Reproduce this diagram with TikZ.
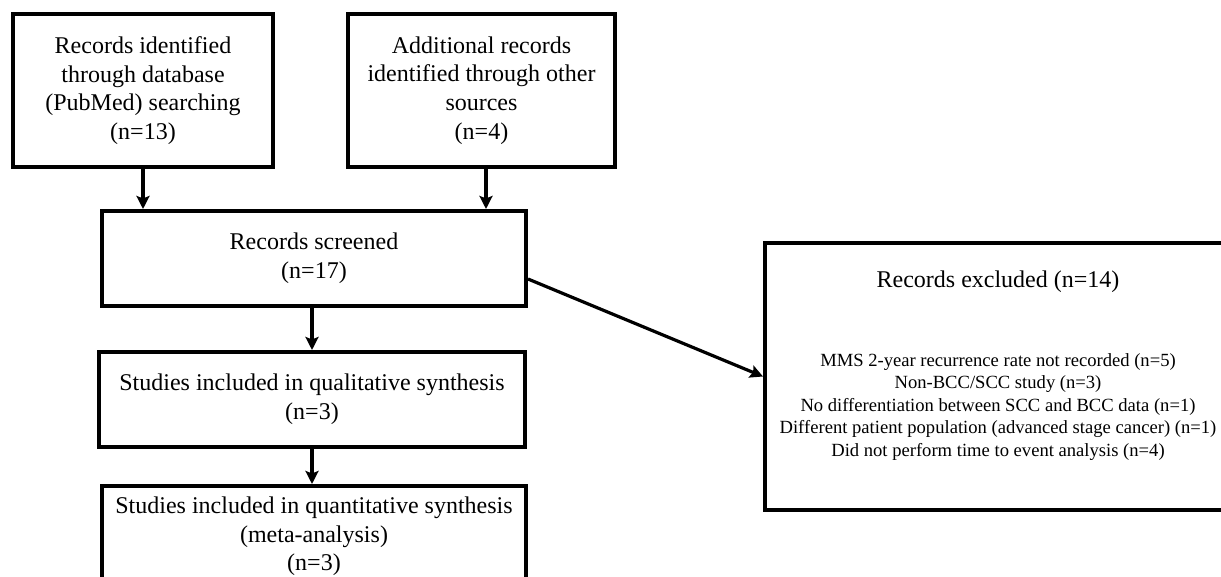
\documentclass[tikz,border=0pt]{standalone}
\usepackage{fontspec}
\setmainfont{Liberation Serif}
\usetikzlibrary{arrows.meta}
\begin{document}
\begin{tikzpicture}[x=0.5pt,y=-0.5pt,
  box/.style={draw=black,line width=2pt,fill=white,align=center,inner sep=0pt,
    font=\fontsize{12}{14.3}\selectfont},
  conn/.style={line width=1.6pt,-{Stealth[length=6.5pt,width=6.5pt,inset=1.2pt]}},
  small/.style={align=center,inner sep=0pt,font=\fontsize{9.3}{11.25}\selectfont}]
\useasboundingbox (0,0) rectangle (1221,577);
\clip (0,0) rectangle (1221,577);
\fill[white] (0,0) rectangle (1221,577);
\node[box,minimum width=130pt,minimum height=76.5pt] (id) at (143,90.5)
  {Records identified\\through database\\(PubMed) searching\\(n=13)};
\node[box,minimum width=133.5pt,minimum height=76.5pt] (oth) at (481.5,90.5)
  {Additional records\\identified through other\\sources\\(n=4)};
\node[box,minimum width=212pt,minimum height=47.5pt] (scr) at (314,258.5)
  {Records screened\\(n=17)};
\node[box,minimum width=213pt,minimum height=47.5pt] (qual) at (312,399.5)
  {Studies included in qualitative synthesis\\(n=3)};
\node[box,minimum width=212pt,minimum height=50.5pt] (quant) at (314,536.5)
  {Studies included in quantitative synthesis\\(meta-analysis)\\(n=3)};
\node[box,minimum width=233.5pt,minimum height=133.5pt] (exc) at (998.5,376.5) {};
\node[box,draw=none,fill=none] (exch) at (998,282) {Records excluded (n=14)};
\node[small] (excl) at (998,407)
  {MMS 2-year recurrence rate not recorded (n=5)\\
   Non-BCC/SCC study (n=3)\\
   No differentiation between SCC and BCC data (n=1)\\
   Different patient population (advanced stage cancer) (n=1)\\
   Did not perform time to event analysis (n=4)};
\draw[conn] (id.south) -- (id.south |- scr.north);
\draw[conn] ([xshift=2.25pt]oth.south) -- ([xshift=2.25pt]oth.south |- scr.north);
\draw[conn] ([xshift=-1pt]scr.south) -- ([xshift=-1pt]scr.south |- qual.north);
\draw[conn] (qual.south) -- (qual.south |- quant.north);
\draw[conn] ([yshift=-10.25pt]scr.east) -- (exc.west);
\end{tikzpicture}
\end{document}
